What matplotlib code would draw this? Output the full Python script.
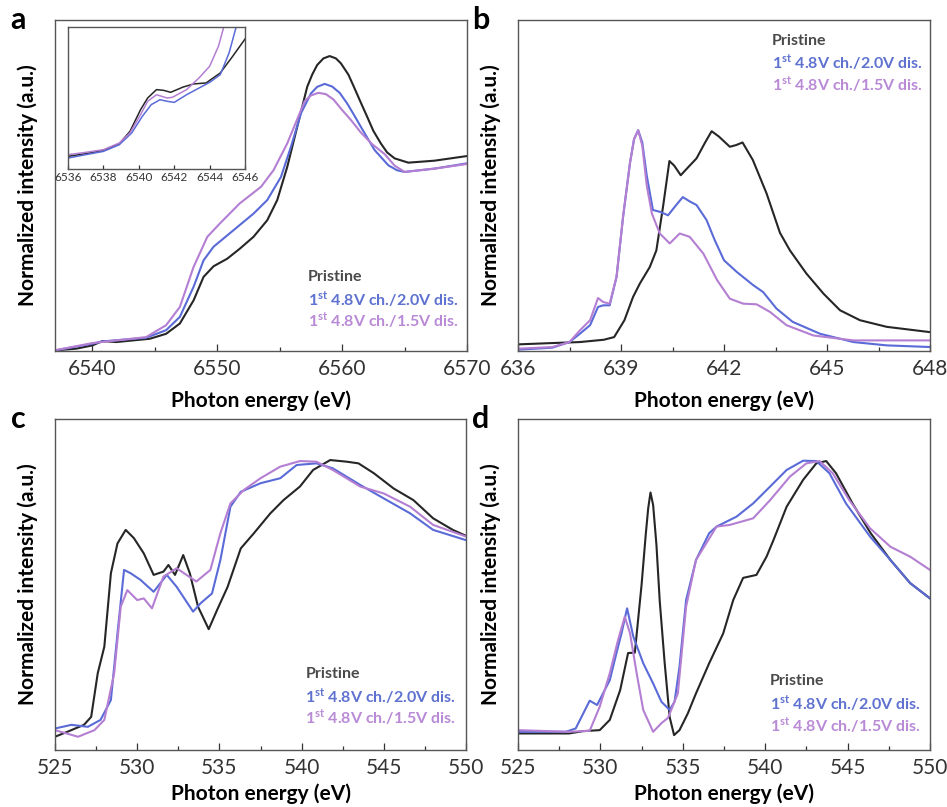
import numpy as np
import matplotlib.pyplot as plt
from matplotlib.ticker import MultipleLocator

plt.rcParams['font.family'] = ['Lato', 'DejaVu Sans']
plt.rcParams['mathtext.fontset'] = 'custom'
plt.rcParams['mathtext.bf'] = 'Lato:bold'
plt.rcParams['mathtext.rm'] = 'Lato'

# colours of the three samples
c_pri = '#262626'
c_20 = '#5a6bd8'
c_15 = '#b47fd2'
t_pri = '#4a4a4a'
t_20 = '#5f72d0'
t_15 = '#b98ad6'

# ---- panel a : Mn K-edge XANES ----
a_x_pri = [6537, 6538.7, 6540, 6540.8, 6541.9, 6544.6, 6545.9, 6547, 6548.1, 6548.9, 6549.7, 6550.8,
           6551.8, 6552.9, 6554, 6554.8, 6555.6, 6556.4, 6557.2, 6557.6, 6558, 6558.5, 6559,
           6559.5, 6559.9, 6560.5, 6561, 6561.5, 6562, 6562.5, 6563.1, 6563.6, 6564.2, 6565.3,
           6567.4, 6570]
a_y_pri = [0.002, 0.007, 0.017, 0.03, 0.027, 0.037, 0.052, 0.083, 0.153, 0.224, 0.256, 0.279,
           0.309, 0.345, 0.395, 0.456, 0.556, 0.677, 0.798, 0.835, 0.864, 0.884, 0.891,
           0.884, 0.869, 0.835, 0.793, 0.75, 0.708, 0.665, 0.627, 0.6, 0.582, 0.569,
           0.575, 0.589]
a_x_20 = [6537, 6540, 6540.8, 6544.3, 6545.9, 6547, 6548.1, 6548.9, 6549.7, 6551.3, 6552.9, 6554,
          6555.1, 6555.9, 6556.7, 6557.5, 6558, 6558.6, 6559.2, 6559.8, 6560.4, 6561, 6561.5,
          6562.6, 6563.7, 6564.4, 6565, 6567.4, 6570]
a_y_20 = [0.002, 0.022, 0.029, 0.04, 0.063, 0.103, 0.194, 0.274, 0.315, 0.365, 0.415, 0.456,
          0.526, 0.617, 0.718, 0.778, 0.798, 0.807, 0.799, 0.78, 0.748, 0.71, 0.677,
          0.607, 0.561, 0.546, 0.541, 0.551, 0.567]
a_x_15 = [6537, 6540, 6544.3, 6545.9, 6547, 6548.1, 6549.2, 6550.2, 6551.8, 6553.5, 6554.5, 6555.6,
          6556.4, 6557, 6557.5, 6558.1, 6558.7, 6559.3, 6560, 6560.7, 6561.5, 6562.4, 6563.4,
          6564.2, 6565, 6567.4, 6570]
a_y_15 = [0.002, 0.024, 0.042, 0.078, 0.133, 0.254, 0.345, 0.385, 0.446, 0.496, 0.546, 0.627,
          0.7, 0.755, 0.772, 0.780, 0.776, 0.76, 0.728, 0.698, 0.66, 0.625, 0.595,
          0.56, 0.541, 0.551, 0.565]

# inset of panel a (pre-edge)
i_x_pri = [6536, 6537, 6538, 6538.9, 6539.5, 6540.1, 6540.5, 6541, 6541.4, 6541.8, 6542.5, 6543.1,
           6543.8, 6544.6, 6545.3, 6546]
i_y_pri = [0.089, 0.108, 0.131, 0.178, 0.265, 0.418, 0.5, 0.559, 0.554, 0.54, 0.577, 0.599,
           0.606, 0.676, 0.793, 0.915]
i_x_20 = [6536, 6537, 6538, 6538.9, 6539.6, 6540.2, 6540.7, 6541.2, 6541.6, 6542, 6542.7, 6543.4,
          6544, 6544.6, 6545.1, 6545.5]
i_y_20 = [0.077, 0.101, 0.124, 0.171, 0.254, 0.371, 0.453, 0.488, 0.477, 0.469, 0.523, 0.57,
          0.61, 0.664, 0.817, 1.0]
i_x_15 = [6536, 6537, 6538, 6538.9, 6539.5, 6540.1, 6540.5, 6541, 6541.6, 6541.9, 6542.7, 6543.4,
          6544, 6544.5, 6544.8]
i_y_15 = [0.101, 0.117, 0.136, 0.183, 0.254, 0.383, 0.477, 0.523, 0.5, 0.505, 0.559, 0.641,
          0.723, 0.864, 1.0]

# ---- panel b : Mn L3-edge ----
b_x_pri = [636, 637, 637.8, 638.5, 638.8, 639.1, 639.35, 639.55, 639.84, 640.03, 640.23, 640.41,
           640.55, 640.74, 641, 641.2, 641.45, 641.64, 641.85, 642.17, 642.35, 642.54, 642.84,
           643.24, 643.63, 643.92, 644.4, 644.9, 645.38, 645.96, 646.74, 648]
b_y_pri = [0.02, 0.024, 0.027, 0.034, 0.042, 0.093, 0.163, 0.204, 0.254, 0.304, 0.44, 0.574,
           0.56, 0.531, 0.56, 0.582, 0.63, 0.664, 0.648, 0.617, 0.622, 0.63, 0.577,
           0.476, 0.357, 0.304, 0.234, 0.173, 0.123, 0.093, 0.073, 0.057]
b_x_20 = [636, 637, 637.5, 637.8, 638.1, 638.33, 638.48, 638.67, 638.87, 639.06, 639.26, 639.38,
          639.5, 639.62, 639.75, 639.93, 640.15, 640.37, 640.6, 640.8, 641, 641.2, 641.49, 641.73,
          642, 642.37, 642.85, 643.14, 643.53, 644, 644.8, 645.77, 646.74, 648]
b_y_20 = [0.004, 0.01, 0.027, 0.052, 0.078, 0.133, 0.138, 0.138, 0.224, 0.405, 0.567, 0.64,
          0.667, 0.63, 0.53, 0.426, 0.42, 0.41, 0.44, 0.465, 0.452, 0.441, 0.396, 0.335,
          0.274, 0.239, 0.199, 0.178, 0.128, 0.088, 0.052, 0.027, 0.017, 0.012]
b_x_15 = [636, 637, 637.5, 637.8, 638.1, 638.33, 638.48, 638.67, 638.87, 639.06, 639.26, 639.38,
          639.5, 639.62, 639.75, 639.9, 640.13, 640.42, 640.71, 641, 641.4, 641.8, 642.17, 642.56,
          642.95, 643.34, 643.82, 644.6, 645.77, 648]
b_y_15 = [0.007, 0.012, 0.027, 0.062, 0.093, 0.16, 0.148, 0.143, 0.224, 0.405, 0.567, 0.64,
          0.667, 0.62, 0.5, 0.415, 0.355, 0.325, 0.355, 0.345, 0.294, 0.214, 0.158, 0.143,
          0.141, 0.118, 0.078, 0.047, 0.032, 0.032]

# ---- panel c : O K-edge (TEY) ----
c_x_pri = [525, 525.75, 526.76, 527.2, 527.6, 528, 528.4, 528.8, 529.3, 529.8, 530.4, 531, 531.6,
           531.9, 532.3, 532.8, 533.2, 533.7, 534.35, 534.86, 535.5, 536.3, 537.1, 538.1, 538.9,
           539.9, 540.7, 541.74, 542.75, 543.46, 544.4, 545.6, 546.8, 548, 549.2, 550]
c_y_pri = [0.04, 0.055, 0.076, 0.1, 0.232, 0.312, 0.534, 0.624, 0.665, 0.64, 0.594, 0.529, 0.539,
           0.559, 0.529, 0.589, 0.534, 0.433, 0.365, 0.423, 0.493, 0.609, 0.655, 0.715, 0.755,
           0.796, 0.846, 0.876, 0.871, 0.866, 0.836, 0.79, 0.755, 0.7, 0.665, 0.647]
c_x_20 = [525, 526, 527, 527.77, 528.4, 528.8, 529.2, 529.6, 530.2, 531, 531.8, 532.4, 533, 533.4,
          533.85, 534.55, 535.06, 535.67, 536.3, 537.5, 538.7, 539.7, 540.9, 541.9, 543.56, 545,
          546.6, 548, 550]
c_y_20 = [0.065, 0.076, 0.07, 0.091, 0.151, 0.352, 0.544, 0.534, 0.514, 0.478, 0.529, 0.493,
          0.448, 0.418, 0.443, 0.473, 0.574, 0.735, 0.78, 0.806, 0.821, 0.861, 0.866, 0.851,
          0.801, 0.76, 0.715, 0.665, 0.634]
c_x_15 = [525, 526.4, 527.4, 528, 528.6, 529, 529.4, 530, 530.4, 530.9, 531.6, 532.4, 533, 533.6,
          534.45, 535.06, 535.67, 536.5, 537.5, 538.7, 539.9, 540.9, 541.9, 543.56, 545, 546.6,
          548, 550]
c_y_15 = [0.06, 0.04, 0.06, 0.091, 0.232, 0.433, 0.483, 0.453, 0.458, 0.428, 0.524, 0.549, 0.529,
          0.509, 0.544, 0.655, 0.745, 0.786, 0.821, 0.856, 0.873, 0.871, 0.846, 0.796, 0.775,
          0.735, 0.68, 0.645]

# ---- panel d : O K-edge (TFY) ----
d_x_pri = [525, 528.1, 528.95, 529.96, 530.57, 531.2, 531.68, 532.09, 532.5, 532.75, 532.9, 533.04,
           533.2, 533.4, 533.6, 533.9, 534.2, 534.47, 534.8, 535.3, 535.8, 536.6, 537.45, 538.06,
           538.66, 539.47, 540.08, 540.5, 541.3, 542.3, 543.1, 543.7, 544.3, 545.3, 546.4, 547.6,
           548.8, 550]
d_y_pri = [0.05, 0.05, 0.057, 0.06, 0.091, 0.181, 0.293, 0.294, 0.5, 0.65, 0.73, 0.778,
           0.74, 0.62, 0.45, 0.263, 0.1, 0.045, 0.06, 0.11, 0.171, 0.262, 0.352, 0.453,
           0.52, 0.529, 0.584, 0.634, 0.735, 0.816, 0.866, 0.873, 0.836, 0.745, 0.655, 0.574,
           0.504, 0.458]
d_x_20 = [525, 527.9, 528.5, 529.35, 529.8, 530.57, 530.97, 531.28, 531.62, 532, 532.6, 533.2,
          533.7, 534.2, 534.5, 534.8, 535.2, 535.8, 536.6, 537.05, 538.26, 539.27, 540.3, 541.3,
          542.3, 543.1, 543.9, 544.9, 546.36, 547.6, 548.8, 550]
d_y_20 = [0.055, 0.055, 0.065, 0.149, 0.136, 0.211, 0.292, 0.352, 0.428, 0.342, 0.262, 0.201,
          0.146, 0.121, 0.146, 0.252, 0.453, 0.574, 0.655, 0.675, 0.705, 0.745, 0.796, 0.846,
          0.874, 0.873, 0.836, 0.745, 0.645, 0.574, 0.504, 0.458]
d_x_15 = [525, 528.1, 529.35, 529.96, 530.57, 531.07, 531.48, 531.8, 532.2, 532.6, 533.2, 533.7,
          534.1, 534.7, 535.2, 535.8, 537.05, 537.85, 539.27, 540.3, 541.5, 542.5, 543.3, 544.1,
          545.1, 546.36, 547.6, 548.8, 550]
d_y_15 = [0.06, 0.055, 0.058, 0.131, 0.232, 0.332, 0.403, 0.352, 0.232, 0.121, 0.055, 0.081,
          0.097, 0.171, 0.433, 0.574, 0.675, 0.68, 0.7, 0.755, 0.826, 0.866, 0.873, 0.836, 0.755,
          0.67, 0.614, 0.584, 0.544]

W, H = 947, 807


def rect(l, t, r, b):
    return [l / W, 1 - b / H, (r - l) / W, (b - t) / H]


def style(ax, xlim, major, minor, fs=15):
    ax.set_xlim(*xlim)
    ax.set_ylim(0, 1)
    ax.xaxis.set_major_locator(MultipleLocator(major))
    ax.xaxis.set_minor_locator(MultipleLocator(minor))
    ax.tick_params(axis='x', which='major', direction='in', length=5, width=0.9,
                   labelsize=fs, colors='#333333', pad=6)
    ax.tick_params(axis='x', which='minor', direction='in', length=3, width=0.9, colors='#333333')
    ax.tick_params(axis='y', left=False, labelleft=False)
    for s in ax.spines.values():
        s.set_color('#555555')
        s.set_linewidth(1.0)


def legend_text(ax, x, y0, dy):
    ax.text(x, y0, 'Pristine', transform=ax.transAxes, color=t_pri, fontsize=11.5,
            fontweight='bold', va='center')
    ax.text(x, y0 - dy, r'1$^{\mathbf{st}}$ 4.8V ch./2.0V dis.', transform=ax.transAxes,
            color=t_20, fontsize=11.5, fontweight='bold', va='center')
    ax.text(x, y0 - 2 * dy, r'1$^{\mathbf{st}}$ 4.8V ch./1.5V dis.', transform=ax.transAxes,
            color=t_15, fontsize=11.5, fontweight='bold', va='center')


fig = plt.figure(figsize=(W / 100, H / 100), dpi=100)

axes = {
    'a': fig.add_axes(rect(55, 20, 467, 351)),
    'b': fig.add_axes(rect(518, 20, 930, 351)),
    'c': fig.add_axes(rect(55, 419, 466, 750)),
    'd': fig.add_axes(rect(518, 419, 930, 750)),
}
data = {
    'a': [(a_x_pri, a_y_pri), (a_x_20, a_y_20), (a_x_15, a_y_15)],
    'b': [(b_x_pri, b_y_pri), (b_x_20, b_y_20), (b_x_15, b_y_15)],
    'c': [(c_x_pri, c_y_pri), (c_x_20, c_y_20), (c_x_15, c_y_15)],
    'd': [(d_x_pri, d_y_pri), (d_x_20, d_y_20), (d_x_15, d_y_15)],
}
lims = {'a': ((6537, 6570), 10, 5), 'b': ((636, 648), 3, 1.5),
        'c': ((525, 550), 5, 2.5), 'd': ((525, 550), 5, 2.5)}
legpos = {'a': (0.614, 0.224), 'b': (0.617, 0.937), 'c': (0.609, 0.23), 'd': (0.612, 0.208)}
xpad = {'a': 8, 'b': 8, 'c': 4, 'd': 4}

for key, ax in axes.items():
    for (x, y), col in zip(data[key], [c_pri, c_20, c_15]):
        ax.plot(x, y, color=col, lw=1.5)
    style(ax, *lims[key])
    ax.set_xlabel('Photon energy (eV)', fontsize=15, fontweight='bold', labelpad=xpad[key])
    ax.set_ylabel('Normalized intensity (a.u.)', fontsize=15, fontweight='bold', labelpad=12)
    legend_text(ax, legpos[key][0], legpos[key][1], 0.066)
    ax.text(-0.09, 1.0, key, transform=ax.transAxes, fontsize=22, fontweight='bold',
            va='center', ha='center')

# inset in panel a
ins = fig.add_axes(rect(68, 27, 245, 169))
for x, y, col in [(i_x_pri, i_y_pri, c_pri), (i_x_20, i_y_20, c_20), (i_x_15, i_y_15, c_15)]:
    ins.plot(x, y, color=col, lw=1.1)
style(ins, (6536, 6546), 2, 1, fs=8.5)
ins.tick_params(axis='x', which='minor', length=0)
ins.tick_params(axis='x', which='major', pad=2, length=3)

fig.savefig('out.png', dpi=100)
